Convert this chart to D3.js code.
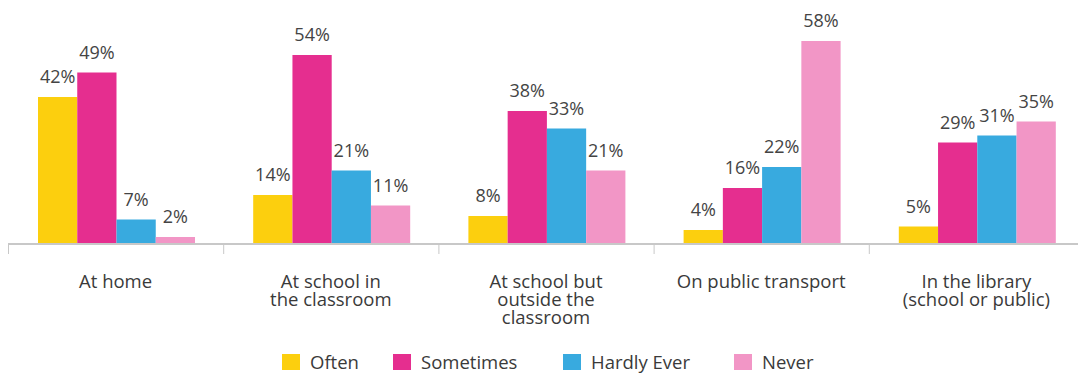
<!DOCTYPE html>
<html><head><meta charset="utf-8">
<script src="https://cdn.jsdelivr.net/npm/d3@7"></script>
<style>
html,body{margin:0;padding:0;background:#fff;}
svg{display:block;font-family:"Open Sans",sans-serif;}
</style></head>
<body>
<svg id="chart" width="1078" height="376"></svg>
<script>
const categories = ["At home", "At school in\nthe classroom", "At school but\noutside the\nclassroom", "On public transport", "In the library\n(school or public)"];
const seriesNames = ["Often", "Sometimes", "Hardly Ever", "Never"];
const often = [42, 14, 8, 4, 5];
const sometimes = [49, 54, 38, 16, 29];
const hardlyEver = [7, 21, 33, 22, 31];
const never = [2, 11, 21, 58, 35];
const colors = ["#FCCF0E", "#E52E8F", "#38AADF", "#F296C6"];

const seriesValues = [often, sometimes, hardlyEver, never];
const svg = d3.select("#chart");

const x0 = d3.scaleBand().domain(categories).range([8, 1084]).paddingInner(0).paddingOuter(0);
const x1 = d3.scaleBand().domain(seriesNames).range([30, 187]);
const y = d3.scaleLinear().domain([0, 60]).range([244, 34]);

const groups = svg.selectAll("g.cat").data(categories).join("g")
  .attr("class", "cat")
  .attr("transform", d => `translate(${x0(d)},0)`);

groups.each(function(cat, ci) {
  const g = d3.select(this);
  seriesNames.forEach((s, si) => {
    const v = seriesValues[si][ci];
    g.append("rect")
      .attr("x", x1(s))
      .attr("y", y(v))
      .attr("width", x1.bandwidth())
      .attr("height", y(0) - y(v))
      .attr("fill", colors[si]);
  });
  seriesNames.forEach((s, si) => {
    const v = seriesValues[si][ci];
    g.append("text")
      .attr("x", x1(s) + x1.bandwidth() / 2)
      .attr("y", y(v) - 14)
      .attr("text-anchor", "middle")
      .attr("font-size", 18)
      .attr("fill", "#444")
      .text(v + "%");
  });
});

// axis
const xAxis = d3.axisBottom(x0).tickSize(0).tickFormat("");
const axisG = svg.append("g").attr("transform", "translate(0,244)").call(xAxis);
axisG.select(".domain").attr("stroke", "#c8c8c8").attr("stroke-width", 2).attr("d", "M8,0H1078");
const bounds = categories.map(c => x0(c));
axisG.selectAll("line.bound").data(bounds).join("line")
  .attr("class", "bound")
  .attr("x1", d => d + 0.5).attr("x2", d => d + 0.5)
  .attr("y1", 0).attr("y2", 10)
  .attr("stroke", "#c8c8c8").attr("stroke-width", 1);

// category labels
categories.forEach(c => {
  const lines = c.split("\n");
  const cx = x0(c) + x0.bandwidth() / 2;
  const t = svg.append("text")
    .attr("x", cx)
    .attr("y", 288)
    .attr("text-anchor", "middle")
    .attr("font-size", 18.5)
    .attr("fill", "#3a3a3a");
  lines.forEach((l, i) => {
    t.append("tspan").attr("x", cx).attr("dy", i === 0 ? 0 : 18).text(l);
  });
});

// legend
const legendX = [282, 393, 563, 734];
seriesNames.forEach((s, i) => {
  svg.append("rect").attr("x", legendX[i]).attr("y", 354).attr("width", 18).attr("height", 16).attr("fill", colors[i]);
  svg.append("text").attr("x", legendX[i] + 28).attr("y", 369).attr("font-size", 18.5).attr("fill", "#3a3a3a").text(s);
});
</script>
</body></html>
